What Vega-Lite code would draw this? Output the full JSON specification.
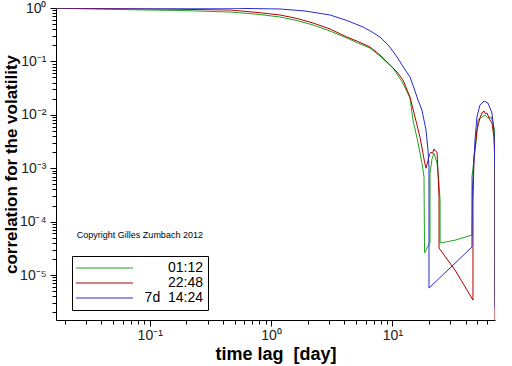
{
  "$schema": "https://vega.github.io/schema/vega-lite/v6.json",
  "width": 439,
  "height": 312,
  "autosize": "none",
  "padding": {"left": 56, "top": 8, "right": 17, "bottom": 46},
  "background": "white",
  "config": {
    "view": {"stroke": null},
    "font": "Liberation Sans"
  },
  "datasets": {
    "curves": [
      {"series": "01:12", "o": 1, "t": 0.0169, "c": 0.987},
      {"series": "01:12", "o": 2, "t": 0.0944, "c": 0.917},
      {"series": "01:12", "o": 3, "t": 0.178, "c": 0.9},
      {"series": "01:12", "o": 4, "t": 0.459, "c": 0.841},
      {"series": "01:12", "o": 5, "t": 0.738, "c": 0.772},
      {"series": "01:12", "o": 6, "t": 1.185, "c": 0.678},
      {"series": "01:12", "o": 7, "t": 1.636, "c": 0.583},
      {"series": "01:12", "o": 8, "t": 2.215, "c": 0.48},
      {"series": "01:12", "o": 9, "t": 3.06, "c": 0.371},
      {"series": "01:12", "o": 10, "t": 4.22, "c": 0.274},
      {"series": "01:12", "o": 11, "t": 5.2, "c": 0.221},
      {"series": "01:12", "o": 12, "t": 6.53, "c": 0.178},
      {"series": "01:12", "o": 13, "t": 7.9, "c": 0.126},
      {"series": "01:12", "o": 14, "t": 10.1, "c": 0.0753},
      {"series": "01:12", "o": 15, "t": 12.2, "c": 0.0394},
      {"series": "01:12", "o": 16, "t": 13.95, "c": 0.0206},
      {"series": "01:12", "o": 17, "t": 14.77, "c": 0.008},
      {"series": "01:12", "o": 18, "t": 16.25, "c": 0.003},
      {"series": "01:12", "o": 19, "t": 17.5, "c": 0.00126},
      {"series": "01:12", "o": 20, "t": 18.2, "c": 0.00069},
      {"series": "01:12", "o": 21, "t": 18.4, "c": 0.000026},
      {"series": "01:12", "o": 22, "t": 20.4, "c": 0.000041},
      {"series": "01:12", "o": 23, "t": 20.4, "c": 0.00081},
      {"series": "01:12", "o": 24, "t": 21.2, "c": 0.0015},
      {"series": "01:12", "o": 25, "t": 22.0, "c": 0.0019},
      {"series": "01:12", "o": 26, "t": 23.3, "c": 0.00126},
      {"series": "01:12", "o": 27, "t": 24.2, "c": 0.0005},
      {"series": "01:12", "o": 28, "t": 24.7, "c": 0.00025},
      {"series": "01:12", "o": 29, "t": 24.7, "c": 0.0000397},
      {"series": "01:12", "o": 30, "t": 32.8, "c": 0.000045},
      {"series": "01:12", "o": 31, "t": 45.2, "c": 0.000056},
      {"series": "01:12", "o": 32, "t": 45.2, "c": 0.00069},
      {"series": "01:12", "o": 33, "t": 48.8, "c": 0.003},
      {"series": "01:12", "o": 34, "t": 50.7, "c": 0.008},
      {"series": "01:12", "o": 35, "t": 54.7, "c": 0.0091},
      {"series": "01:12", "o": 36, "t": 57.9, "c": 0.0099},
      {"series": "01:12", "o": 37, "t": 61.3, "c": 0.0087},
      {"series": "01:12", "o": 38, "t": 64.9, "c": 0.0091},
      {"series": "01:12", "o": 39, "t": 67.4, "c": 0.0073},
      {"series": "01:12", "o": 40, "t": 69.3, "c": 0.0052},
      {"series": "01:12", "o": 41, "t": 70.0, "c": 0.0000034},

      {"series": "22:48", "o": 1, "t": 0.0169, "c": 0.99},
      {"series": "22:48", "o": 2, "t": 0.0944, "c": 0.958},
      {"series": "22:48", "o": 3, "t": 0.178, "c": 0.945},
      {"series": "22:48", "o": 4, "t": 0.459, "c": 0.917},
      {"series": "22:48", "o": 5, "t": 0.738, "c": 0.834},
      {"series": "22:48", "o": 6, "t": 1.185, "c": 0.74},
      {"series": "22:48", "o": 7, "t": 1.636, "c": 0.636},
      {"series": "22:48", "o": 8, "t": 2.215, "c": 0.524},
      {"series": "22:48", "o": 9, "t": 3.06, "c": 0.404},
      {"series": "22:48", "o": 10, "t": 4.22, "c": 0.286},
      {"series": "22:48", "o": 11, "t": 5.2, "c": 0.236},
      {"series": "22:48", "o": 12, "t": 6.53, "c": 0.186},
      {"series": "22:48", "o": 13, "t": 7.9, "c": 0.132},
      {"series": "22:48", "o": 14, "t": 9.55, "c": 0.0857},
      {"series": "22:48", "o": 15, "t": 10.91, "c": 0.0633},
      {"series": "22:48", "o": 16, "t": 12.22, "c": 0.0449},
      {"series": "22:48", "o": 17, "t": 13.95, "c": 0.0216},
      {"series": "22:48", "o": 18, "t": 15.35, "c": 0.0091},
      {"series": "22:48", "o": 19, "t": 16.87, "c": 0.0038},
      {"series": "22:48", "o": 20, "t": 17.86, "c": 0.0019},
      {"series": "22:48", "o": 21, "t": 18.4, "c": 0.0013},
      {"series": "22:48", "o": 22, "t": 18.9, "c": 0.001},
      {"series": "22:48", "o": 23, "t": 19.63, "c": 0.0014},
      {"series": "22:48", "o": 24, "t": 20.2, "c": 0.0018},
      {"series": "22:48", "o": 25, "t": 20.8, "c": 0.002},
      {"series": "22:48", "o": 26, "t": 21.4, "c": 0.0019},
      {"series": "22:48", "o": 27, "t": 22.0, "c": 0.0023},
      {"series": "22:48", "o": 28, "t": 22.6, "c": 0.0021},
      {"series": "22:48", "o": 29, "t": 23.3, "c": 0.002},
      {"series": "22:48", "o": 30, "t": 23.7, "c": 0.00093},
      {"series": "22:48", "o": 31, "t": 24.2, "c": 0.00029},
      {"series": "22:48", "o": 32, "t": 24.2, "c": 0.000032},
      {"series": "22:48", "o": 33, "t": 32.8, "c": 0.0000124},
      {"series": "22:48", "o": 34, "t": 46.1, "c": 0.0000034},
      {"series": "22:48", "o": 35, "t": 46.1, "c": 0.00025},
      {"series": "22:48", "o": 36, "t": 47.0, "c": 0.0016},
      {"series": "22:48", "o": 37, "t": 49.7, "c": 0.0052},
      {"series": "22:48", "o": 38, "t": 52.6, "c": 0.0087},
      {"series": "22:48", "o": 39, "t": 54.7, "c": 0.0108},
      {"series": "22:48", "o": 40, "t": 56.8, "c": 0.0118},
      {"series": "22:48", "o": 41, "t": 58.5, "c": 0.0104},
      {"series": "22:48", "o": 42, "t": 60.1, "c": 0.0108},
      {"series": "22:48", "o": 43, "t": 63.7, "c": 0.008},
      {"series": "22:48", "o": 44, "t": 66.1, "c": 0.007},
      {"series": "22:48", "o": 45, "t": 68.7, "c": 0.0038},
      {"series": "22:48", "o": 46, "t": 70.0, "c": 0.0016},
      {"series": "22:48", "o": 47, "t": 70.0, "c": 0.00000144},

      {"series": "7d\u00a0 14:24", "o": 1, "t": 0.0169, "c": 0.998},
      {"series": "7d\u00a0 14:24", "o": 2, "t": 0.459, "c": 0.99},
      {"series": "7d\u00a0 14:24", "o": 3, "t": 1.185, "c": 0.958},
      {"series": "7d\u00a0 14:24", "o": 4, "t": 1.904, "c": 0.879},
      {"series": "7d\u00a0 14:24", "o": 5, "t": 3.06, "c": 0.74},
      {"series": "7d\u00a0 14:24", "o": 6, "t": 4.22, "c": 0.583},
      {"series": "7d\u00a0 14:24", "o": 7, "t": 5.72, "c": 0.441},
      {"series": "7d\u00a0 14:24", "o": 8, "t": 6.79, "c": 0.355},
      {"series": "7d\u00a0 14:24", "o": 9, "t": 7.9, "c": 0.286},
      {"series": "7d\u00a0 14:24", "o": 10, "t": 9.37, "c": 0.194},
      {"series": "7d\u00a0 14:24", "o": 11, "t": 10.91, "c": 0.121},
      {"series": "7d\u00a0 14:24", "o": 12, "t": 12.45, "c": 0.0753},
      {"series": "7d\u00a0 14:24", "o": 13, "t": 13.95, "c": 0.0512},
      {"series": "7d\u00a0 14:24", "o": 14, "t": 15.05, "c": 0.0317},
      {"series": "7d\u00a0 14:24", "o": 15, "t": 16.25, "c": 0.0189},
      {"series": "7d\u00a0 14:24", "o": 16, "t": 17.5, "c": 0.0123},
      {"series": "7d\u00a0 14:24", "o": 17, "t": 18.9, "c": 0.0052},
      {"series": "7d\u00a0 14:24", "o": 18, "t": 19.63, "c": 0.0022},
      {"series": "7d\u00a0 14:24", "o": 19, "t": 20.0, "c": 0.00104},
      {"series": "7d\u00a0 14:24", "o": 20, "t": 20.0, "c": 0.0000057},
      {"series": "7d\u00a0 14:24", "o": 21, "t": 45.2, "c": 0.0000334},
      {"series": "7d\u00a0 14:24", "o": 22, "t": 45.6, "c": 0.00039},
      {"series": "7d\u00a0 14:24", "o": 23, "t": 47.9, "c": 0.0034},
      {"series": "7d\u00a0 14:24", "o": 24, "t": 49.7, "c": 0.0091},
      {"series": "7d\u00a0 14:24", "o": 25, "t": 52.6, "c": 0.0152},
      {"series": "7d\u00a0 14:24", "o": 26, "t": 56.8, "c": 0.0181},
      {"series": "7d\u00a0 14:24", "o": 27, "t": 61.3, "c": 0.0166},
      {"series": "7d\u00a0 14:24", "o": 28, "t": 66.1, "c": 0.0108},
      {"series": "7d\u00a0 14:24", "o": 29, "t": 68.7, "c": 0.0046},
      {"series": "7d\u00a0 14:24", "o": 30, "t": 70.0, "c": 0.00081},
      {"series": "7d\u00a0 14:24", "o": 31, "t": 70.0, "c": 0.0000024}
    ],
    "notes": [
      {"t": 0.0251, "c": 0.000056, "label": "Copyright Gilles Zumbach 2012"}
    ]
  },
  "layer": [
    {
      "data": {"name": "curves"},
      "mark": {"type": "line", "strokeWidth": 1, "clip": true, "interpolate": "linear"},
      "encoding": {
        "x": {
          "field": "t", "type": "quantitative",
          "scale": {"type": "log", "domain": [0.0169, 70], "nice": false},
          "axis": {
            "title": "time lag\u00a0 [day]",
            "titleFont": "Liberation Sans", "titleFontSize": 18, "titleFontWeight": "bold", "titleColor": "black",
            "titleY": 39, "titleBaseline": "alphabetic",
            "grid": false, "domainColor": "black", "domainWidth": 1,
            "tickColor": "black", "tickWidth": 1,
            "tickSize": {"condition": {"test": "abs(log(datum.value)/LN10 - round(log(datum.value)/LN10)) < 0.01", "value": 6}, "value": 4},
            "values": [0.02,0.03,0.04,0.05,0.06,0.07,0.08,0.09,0.1,0.2,0.3,0.4,0.5,0.6,0.7,0.8,0.9,1,2,3,4,5,6,7,8,9,10,20,30,40,50,60],
            "labelExpr": "abs(log(datum.value)/LN10 - round(log(datum.value)/LN10)) < 0.01 ? ('10' + (round(log(datum.value)/LN10) == -1 ? '⁻¹' : round(log(datum.value)/LN10) == 0 ? '⁰' : '¹')) : ''",
            "labelFont": "Liberation Sans", "labelFontSize": 14, "labelColor": "#222",
            "labelPadding": 2, "labelFlush": false, "labelOverlap": false
          }
        },
        "y": {
          "field": "c", "type": "quantitative",
          "scale": {"type": "log", "domain": [0.00000144, 1], "nice": false},
          "axis": {
            "title": "correlation for the volatility",
            "titleFont": "Liberation Sans", "titleFontSize": 17, "titleFontWeight": "bold", "titleColor": "black",
            "titleX": -40, "titleY": 156, "titleAlign": "center", "titleBaseline": "alphabetic", "titleAngle": -90,
            "grid": false, "domainColor": "black", "domainWidth": 1,
            "tickColor": "black", "tickWidth": 1,
            "tickSize": {"condition": {"test": "abs(log(datum.value)/LN10 - round(log(datum.value)/LN10)) < 0.01", "value": 6}, "value": 4},
            "values": [0.000002,0.000003,0.000004,0.000005,0.000006,0.000007,0.000008,0.000009,
                       0.00001,0.00002,0.00003,0.00004,0.00005,0.00006,0.00007,0.00008,0.00009,
                       0.0001,0.0002,0.0003,0.0004,0.0005,0.0006,0.0007,0.0008,0.0009,
                       0.001,0.002,0.003,0.004,0.005,0.006,0.007,0.008,0.009,
                       0.01,0.02,0.03,0.04,0.05,0.06,0.07,0.08,0.09,
                       0.1,0.2,0.3,0.4,0.5,0.6,0.7,0.8,0.9,1],
            "labelExpr": "abs(log(datum.value)/LN10 - round(log(datum.value)/LN10)) < 0.01 ? ('10' + ['⁰','⁻¹','⁻²','⁻³','⁻⁴','⁻⁵','⁻⁶'][-round(log(datum.value)/LN10)]) : ''",
            "labelFont": "Liberation Sans", "labelFontSize": 14, "labelColor": "#222",
            "labelPadding": 4, "labelFlush": false, "labelOverlap": false
          }
        },
        "color": {
          "field": "series", "type": "nominal",
          "scale": {"domain": ["01:12", "22:48", "7d\u00a0 14:24"], "range": ["#1fa51f", "#b50000", "#2a2ac8"]},
          "legend": {
            "title": null, "orient": "none", "legendX": 16, "legendY": 248,
            "strokeColor": "black", "fillColor": "white", "padding": 5,
            "symbolType": "M-1.6,0H9.8", "symbolSize": 100, "symbolStrokeWidth": 1,
            "labelFont": "Liberation Sans", "labelFontSize": 14, "labelColor": "black",
            "labelAlign": "right", "labelOffset": 112, "rowPadding": 1
          }
        },
        "order": {"field": "o", "type": "quantitative"}
      }
    },
    {
      "data": {"name": "notes"},
      "mark": {"type": "text", "align": "left", "baseline": "middle", "font": "Liberation Sans", "fontSize": 9, "color": "black"},
      "encoding": {
        "x": {"field": "t", "type": "quantitative"},
        "y": {"field": "c", "type": "quantitative"},
        "text": {"field": "label"}
      }
    }
  ]
}
